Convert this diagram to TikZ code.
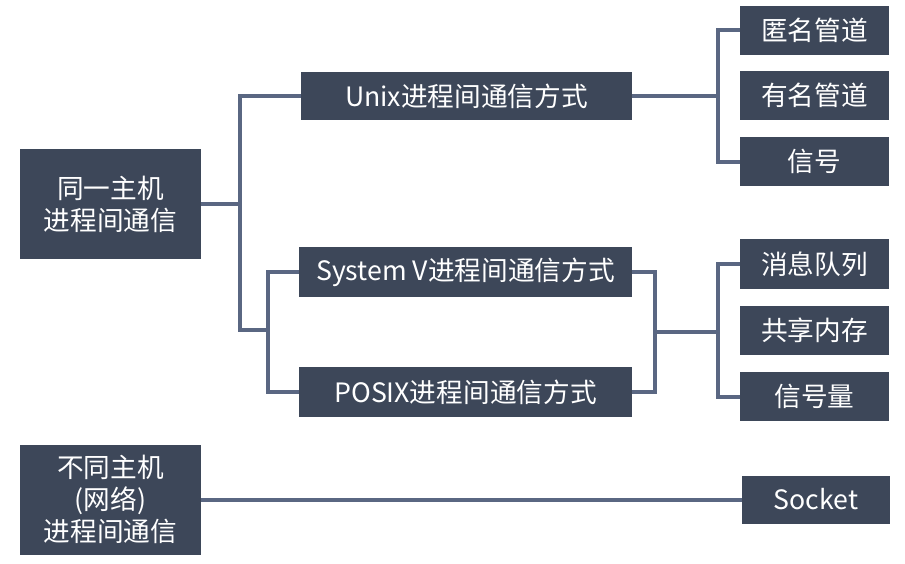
\documentclass[tikz,border=0pt]{standalone}
\usepackage{fontspec}
\setmainfont{Noto Sans CJK SC}
\definecolor{boxc}{HTML}{3D4759}
\definecolor{linec}{HTML}{5A6782}
\begin{document}
\begin{tikzpicture}[x=0.75pt,y=-0.75pt,
  box/.style={fill=boxc,text=white,inner sep=0pt,align=center,
    font=\fontsize{20}{24}\selectfont},
  sz/.style n args={2}{minimum width=#1*0.75pt,minimum height=#2*0.75pt},
  conn/.style={draw=linec,line width=3pt,line join=miter}]
\useasboundingbox (0,0) rectangle (905,563);
% nodes
\node[box,sz={181}{110}] (A) at (110.5,204) {同一主机\\进程间通信};
\node[box,sz={331}{48}] (B) at (466.5,96) {Unix进程间通信方式};
\node[box,sz={333}{50}] (C) at (465.5,272) {System V进程间通信方式};
\node[box,sz={333}{50}] (D) at (465.5,392) {POSIX进程间通信方式};
\node[box,sz={149}{49}] (R1) at (814.5,30.5) {匿名管道};
\node[box,sz={149}{49}] (R2) at (814.5,95.5) {有名管道};
\node[box,sz={149}{49}] (R3) at (814.5,161.5) {信号};
\node[box,sz={149}{50}] (R4) at (814.5,264) {消息队列};
\node[box,sz={149}{49}] (R5) at (814.5,330.5) {共享内存};
\node[box,sz={149}{49}] (R6) at (814.5,396.5) {信号量};
\node[box,sz={181}{110}] (E) at (110.5,499.5) {不同主机\\(网络)\\进程间通信};
\node[box,sz={148}{48}] (S) at (816,499.5) {Socket};
% junction coordinates
\coordinate (ja) at (240,330);
\coordinate (jb) at (268,330);
\coordinate (jc) at (718,96);
\coordinate (jm) at (655,332);
\coordinate (jn) at (718,332);
% connectors
\draw[conn] (A.east) -- (A.east -| ja);
\draw[conn] (B.west) -| (ja) -- (jb);
\draw[conn] (C.west) -| (jb);
\draw[conn] (D.west) -| (jb);
\draw[conn] (B.east) -- (jc);
\draw[conn] (R1.west) -| (R3.west -| jc) -- (R3.west);
\draw[conn] (C.east) -| (jm);
\draw[conn] (D.east) -| (jm);
\draw[conn] (jm) -- (jn);
\draw[conn] (R4.west) -| (R6.west -| jn) -- (R6.west);
\draw[conn] (E.east) -- (S.west);
\end{tikzpicture}
\end{document}
